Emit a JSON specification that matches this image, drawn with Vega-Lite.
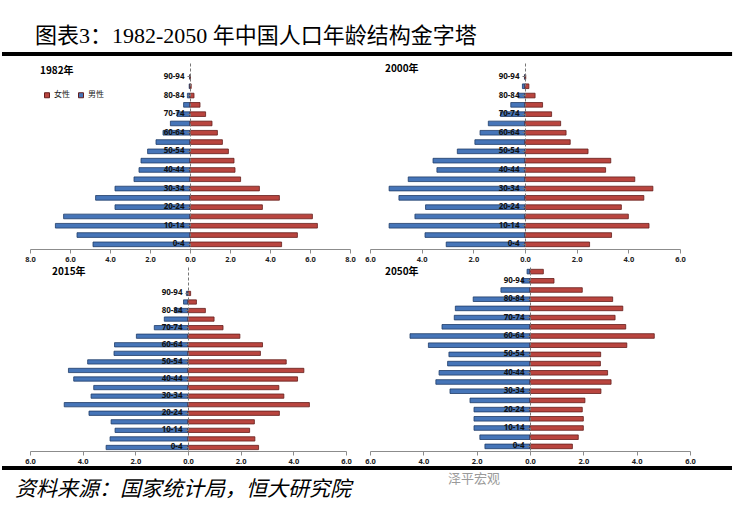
{
  "$schema": "https://vega.github.io/schema/vega-lite/v6.json",
  "autosize": {"type": "pad"},
  "padding": {"left": 0, "top": 24, "right": 2, "bottom": 2},
  "background": "white",
  "bounds": "flush",
  "columns": 2,
  "spacing": {"row": 18, "column": 20},
  "config": {
    "view": {"stroke": null},
    "font": "Noto Sans CJK SC",
    "axis": {"labelFont": "Noto Sans", "grid": false, "title": null}
  },
  "resolve": {"scale": {"color": "independent", "x": "independent", "y": "independent"}, "legend": {"color": "independent"}},
  "datasets": {
    "pop": [
      {"year":1982,"sex":"男性","age":"0-4","value":4.85},{"year":1982,"sex":"男性","age":"5-9","value":5.65},{"year":1982,"sex":"男性","age":"10-14","value":6.73},{"year":1982,"sex":"男性","age":"15-19","value":6.32},{"year":1982,"sex":"男性","age":"20-24","value":3.75},{"year":1982,"sex":"男性","age":"25-29","value":4.72},{"year":1982,"sex":"男性","age":"30-34","value":3.75},{"year":1982,"sex":"男性","age":"35-39","value":2.8},{"year":1982,"sex":"男性","age":"40-44","value":2.55},{"year":1982,"sex":"男性","age":"45-49","value":2.45},{"year":1982,"sex":"男性","age":"50-54","value":2.12},{"year":1982,"sex":"男性","age":"55-59","value":1.7},{"year":1982,"sex":"男性","age":"60-64","value":1.35},{"year":1982,"sex":"男性","age":"65-69","value":0.98},{"year":1982,"sex":"男性","age":"70-74","value":0.65},{"year":1982,"sex":"男性","age":"75-79","value":0.32},{"year":1982,"sex":"男性","age":"80-84","value":0.13},{"year":1982,"sex":"男性","age":"85-89","value":0.04},{"year":1982,"sex":"男性","age":"90-94","value":0.01},
      {"year":1982,"sex":"女性","age":"0-4","value":4.58},{"year":1982,"sex":"女性","age":"5-9","value":5.37},{"year":1982,"sex":"女性","age":"10-14","value":6.37},{"year":1982,"sex":"女性","age":"15-19","value":6.12},{"year":1982,"sex":"女性","age":"20-24","value":3.62},{"year":1982,"sex":"女性","age":"25-29","value":4.47},{"year":1982,"sex":"女性","age":"30-34","value":3.47},{"year":1982,"sex":"女性","age":"35-39","value":2.53},{"year":1982,"sex":"女性","age":"40-44","value":2.25},{"year":1982,"sex":"女性","age":"45-49","value":2.2},{"year":1982,"sex":"女性","age":"50-54","value":1.92},{"year":1982,"sex":"女性","age":"55-59","value":1.62},{"year":1982,"sex":"女性","age":"60-64","value":1.37},{"year":1982,"sex":"女性","age":"65-69","value":1.1},{"year":1982,"sex":"女性","age":"70-74","value":0.78},{"year":1982,"sex":"女性","age":"75-79","value":0.5},{"year":1982,"sex":"女性","age":"80-84","value":0.2},{"year":1982,"sex":"女性","age":"85-89","value":0.06},{"year":1982,"sex":"女性","age":"90-94","value":0.01},
      {"year":2000,"sex":"男性","age":"0-4","value":3.05},{"year":2000,"sex":"男性","age":"5-9","value":3.87},{"year":2000,"sex":"男性","age":"10-14","value":5.26},{"year":2000,"sex":"男性","age":"15-19","value":4.26},{"year":2000,"sex":"男性","age":"20-24","value":3.85},{"year":2000,"sex":"男性","age":"25-29","value":4.88},{"year":2000,"sex":"男性","age":"30-34","value":5.26},{"year":2000,"sex":"男性","age":"35-39","value":4.52},{"year":2000,"sex":"男性","age":"40-44","value":3.41},{"year":2000,"sex":"男性","age":"45-49","value":3.56},{"year":2000,"sex":"男性","age":"50-54","value":2.62},{"year":2000,"sex":"男性","age":"55-59","value":1.94},{"year":2000,"sex":"男性","age":"60-64","value":1.74},{"year":2000,"sex":"男性","age":"65-69","value":1.42},{"year":2000,"sex":"男性","age":"70-74","value":0.95},{"year":2000,"sex":"男性","age":"75-79","value":0.55},{"year":2000,"sex":"男性","age":"80-84","value":0.26},{"year":2000,"sex":"男性","age":"85-89","value":0.1},{"year":2000,"sex":"男性","age":"90-94","value":0.02},
      {"year":2000,"sex":"女性","age":"0-4","value":2.5},{"year":2000,"sex":"女性","age":"5-9","value":3.35},{"year":2000,"sex":"女性","age":"10-14","value":4.8},{"year":2000,"sex":"女性","age":"15-19","value":4.0},{"year":2000,"sex":"女性","age":"20-24","value":3.73},{"year":2000,"sex":"女性","age":"25-29","value":4.6},{"year":2000,"sex":"女性","age":"30-34","value":4.95},{"year":2000,"sex":"女性","age":"35-39","value":4.25},{"year":2000,"sex":"女性","age":"40-44","value":3.12},{"year":2000,"sex":"女性","age":"45-49","value":3.32},{"year":2000,"sex":"女性","age":"50-54","value":2.44},{"year":2000,"sex":"女性","age":"55-59","value":1.75},{"year":2000,"sex":"女性","age":"60-64","value":1.59},{"year":2000,"sex":"女性","age":"65-69","value":1.38},{"year":2000,"sex":"女性","age":"70-74","value":1.03},{"year":2000,"sex":"女性","age":"75-79","value":0.68},{"year":2000,"sex":"女性","age":"80-84","value":0.39},{"year":2000,"sex":"女性","age":"85-89","value":0.15},{"year":2000,"sex":"女性","age":"90-94","value":0.03},
      {"year":2015,"sex":"男性","age":"0-4","value":3.11},{"year":2015,"sex":"男性","age":"5-9","value":2.96},{"year":2015,"sex":"男性","age":"10-14","value":2.77},{"year":2015,"sex":"男性","age":"15-19","value":2.92},{"year":2015,"sex":"男性","age":"20-24","value":3.76},{"year":2015,"sex":"男性","age":"25-29","value":4.7},{"year":2015,"sex":"男性","age":"30-34","value":3.68},{"year":2015,"sex":"男性","age":"35-39","value":3.58},{"year":2015,"sex":"男性","age":"40-44","value":4.34},{"year":2015,"sex":"男性","age":"45-49","value":4.54},{"year":2015,"sex":"男性","age":"50-54","value":3.81},{"year":2015,"sex":"男性","age":"55-59","value":2.81},{"year":2015,"sex":"男性","age":"60-64","value":2.79},{"year":2015,"sex":"男性","age":"65-69","value":1.96},{"year":2015,"sex":"男性","age":"70-74","value":1.28},{"year":2015,"sex":"男性","age":"75-79","value":0.9},{"year":2015,"sex":"男性","age":"80-84","value":0.5},{"year":2015,"sex":"男性","age":"85-89","value":0.17},{"year":2015,"sex":"男性","age":"90-94","value":0.06},
      {"year":2015,"sex":"女性","age":"0-4","value":2.68},{"year":2015,"sex":"女性","age":"5-9","value":2.54},{"year":2015,"sex":"女性","age":"10-14","value":2.34},{"year":2015,"sex":"女性","age":"15-19","value":2.52},{"year":2015,"sex":"女性","age":"20-24","value":3.47},{"year":2015,"sex":"女性","age":"25-29","value":4.61},{"year":2015,"sex":"女性","age":"30-34","value":3.64},{"year":2015,"sex":"女性","age":"35-39","value":3.45},{"year":2015,"sex":"女性","age":"40-44","value":4.16},{"year":2015,"sex":"女性","age":"45-49","value":4.4},{"year":2015,"sex":"女性","age":"50-54","value":3.73},{"year":2015,"sex":"女性","age":"55-59","value":2.75},{"year":2015,"sex":"女性","age":"60-64","value":2.83},{"year":2015,"sex":"女性","age":"65-69","value":1.97},{"year":2015,"sex":"女性","age":"70-74","value":1.33},{"year":2015,"sex":"女性","age":"75-79","value":0.99},{"year":2015,"sex":"女性","age":"80-84","value":0.66},{"year":2015,"sex":"女性","age":"85-89","value":0.32},{"year":2015,"sex":"女性","age":"90-94","value":0.1},
      {"year":2050,"sex":"男性","age":"0-4","value":1.69},{"year":2050,"sex":"男性","age":"5-9","value":1.88},{"year":2050,"sex":"男性","age":"10-14","value":2.1},{"year":2050,"sex":"男性","age":"15-19","value":2.1},{"year":2050,"sex":"男性","age":"20-24","value":2.1},{"year":2050,"sex":"男性","age":"25-29","value":2.25},{"year":2050,"sex":"男性","age":"30-34","value":3.0},{"year":2050,"sex":"男性","age":"35-39","value":3.53},{"year":2050,"sex":"男性","age":"40-44","value":3.41},{"year":2050,"sex":"男性","age":"45-49","value":3.09},{"year":2050,"sex":"男性","age":"50-54","value":3.04},{"year":2050,"sex":"男性","age":"55-59","value":3.81},{"year":2050,"sex":"男性","age":"60-64","value":4.5},{"year":2050,"sex":"男性","age":"65-69","value":3.3},{"year":2050,"sex":"男性","age":"70-74","value":2.84},{"year":2050,"sex":"男性","age":"75-79","value":2.8},{"year":2050,"sex":"男性","age":"80-84","value":2.13},{"year":2050,"sex":"男性","age":"85-89","value":1.09},{"year":2050,"sex":"男性","age":"90-94","value":0.31},{"year":2050,"sex":"男性","age":"95+","value":0.11},
      {"year":2050,"sex":"女性","age":"0-4","value":1.59},{"year":2050,"sex":"女性","age":"5-9","value":1.81},{"year":2050,"sex":"女性","age":"10-14","value":2.0},{"year":2050,"sex":"女性","age":"15-19","value":2.0},{"year":2050,"sex":"女性","age":"20-24","value":1.96},{"year":2050,"sex":"女性","age":"25-29","value":2.06},{"year":2050,"sex":"女性","age":"30-34","value":2.66},{"year":2050,"sex":"女性","age":"35-39","value":3.04},{"year":2050,"sex":"女性","age":"40-44","value":2.91},{"year":2050,"sex":"女性","age":"45-49","value":2.64},{"year":2050,"sex":"女性","age":"50-54","value":2.65},{"year":2050,"sex":"女性","age":"55-59","value":3.63},{"year":2050,"sex":"女性","age":"60-64","value":4.66},{"year":2050,"sex":"女性","age":"65-69","value":3.59},{"year":2050,"sex":"女性","age":"70-74","value":3.19},{"year":2050,"sex":"女性","age":"75-79","value":3.48},{"year":2050,"sex":"女性","age":"80-84","value":3.1},{"year":2050,"sex":"女性","age":"85-89","value":1.96},{"year":2050,"sex":"女性","age":"90-94","value":0.9},{"year":2050,"sex":"女性","age":"95+","value":0.5}
    ]
  },
  "concat": [
    {
      "width": 320, "height": 186,
      "resolve": {"scale": {"x": "independent", "y": "independent"}},
      "layer": [
        {
          "data": {"name": "pop"},
          "transform": [{"filter": "datum.year == 1982 && datum.sex == '男性'"}],
          "mark": {"type": "bar", "stroke": "#1f3c68", "strokeWidth": 0.8},
          "encoding": {
            "y": {"field": "age", "type": "ordinal", "scale": {"domain": ["95+","90-94","85-89","80-84","75-79","70-74","65-69","60-64","55-59","50-54","45-49","40-44","35-39","30-34","25-29","20-24","15-19","10-14","5-9","0-4"], "paddingInner": 0.5, "paddingOuter": 0.25},
              "axis": {"orient": "left", "offset": -160, "values": ["90-94","80-84","70-74","60-64","50-54","40-44","30-34","20-24","10-14","0-4"], "domainDash": [3, 2], "domainColor": "#777", "tickColor": "#777", "tickSize": 3, "labelFontSize": 8, "labelFontWeight": "bold", "labelColor": "#111", "labelPadding": 3, "zindex": 1}},
            "x": {"field": "value", "type": "quantitative", "scale": {"domain": [-8, 8], "reverse": true, "nice": false}, "axis": null},
            "color": {"field": "sex", "type": "nominal", "scale": {"domain": ["女性","男性"], "range": ["#b9453f","#4675b8"]},
              "legend": {"orient": "none", "legendX": 13, "legendY": 28, "direction": "horizontal", "title": null, "symbolType": "square", "symbolSize": 25, "symbolStrokeColor": "#333", "symbolStrokeWidth": 1, "labelFontSize": 8, "labelFont": "Noto Sans CJK SC", "labelColor": "#222", "columnPadding": 6, "labelOffset": 3}}
          }
        },
        {
          "data": {"name": "pop"},
          "transform": [{"filter": "datum.year == 1982 && datum.sex == '女性'"}],
          "mark": {"type": "bar", "stroke": "#641e1c", "strokeWidth": 0.8},
          "encoding": {
            "y": {"field": "age", "type": "ordinal", "scale": {"domain": ["95+","90-94","85-89","80-84","75-79","70-74","65-69","60-64","55-59","50-54","45-49","40-44","35-39","30-34","25-29","20-24","15-19","10-14","5-9","0-4"], "paddingInner": 0.5, "paddingOuter": 0.25}, "axis": null},
            "x": {"field": "value", "type": "quantitative", "scale": {"domain": [-8, 8], "nice": false},
              "axis": {"values": [-8,-6,-4,-2,0,2,4,6,8], "labelExpr": "format(abs(datum.value), '.1f')", "domainColor": "#8c8c8c", "tickColor": "#8c8c8c", "tickSize": 4, "labelFontSize": 7.5, "labelFontWeight": "bold", "labelColor": "#222", "labelPadding": 2, "labelFlush": false, "labelOverlap": false}},
            "color": {"field": "sex", "type": "nominal"}
          }
        },
        {
          "data": {"values": [{}]},
          "layer": [
            {
              "mark": {"type": "rule", "stroke": "#000", "strokeWidth": 4},
              "encoding": {
                "x": {"datum": -0.0875, "type": "quantitative", "scale": {"domain": [0, 1], "nice": false, "zero": false}, "axis": null},
                "x2": {"datum": 2.194},
                "y": {"datum": 1.0484, "type": "quantitative", "scale": {"domain": [0, 1], "nice": false, "zero": false}, "axis": null}
              }
            },
            {
              "mark": {"type": "text", "align": "left", "baseline": "middle", "fontSize": 22, "font": "Liberation Serif, Noto Sans CJK SC", "color": "#000"},
              "encoding": {
                "text": {"datum": "图表3：1982-2050 年中国人口年龄结构金字塔"},
                "x": {"datum": 0.0156, "type": "quantitative", "scale": {"domain": [0, 1], "nice": false, "zero": false}, "axis": null},
                "y": {"datum": 1.1452, "type": "quantitative", "scale": {"domain": [0, 1], "nice": false, "zero": false}, "axis": null}
              }
            },
            {
              "mark": {"type": "text", "align": "left", "baseline": "middle", "fontSize": 10, "fontWeight": "bold", "color": "#000"},
              "encoding": {
                "text": {"datum": "1982年"},
                "x": {"datum": 0.03125, "type": "quantitative", "scale": {"domain": [0, 1], "nice": false, "zero": false}, "axis": null},
                "y": {"datum": 0.957, "type": "quantitative", "scale": {"domain": [0, 1], "nice": false, "zero": false}, "axis": null}
              }
            }
          ]
        }
      ]
    },
    {
      "width": 310, "height": 186,
      "resolve": {"scale": {"x": "independent", "y": "independent"}},
      "layer": [
        {
          "data": {"name": "pop"},
          "transform": [{"filter": "datum.year == 2000 && datum.sex == '男性'"}],
          "mark": {"type": "bar", "stroke": "#1f3c68", "strokeWidth": 0.8},
          "encoding": {
            "y": {"field": "age", "type": "ordinal", "scale": {"domain": ["95+","90-94","85-89","80-84","75-79","70-74","65-69","60-64","55-59","50-54","45-49","40-44","35-39","30-34","25-29","20-24","15-19","10-14","5-9","0-4"], "paddingInner": 0.5, "paddingOuter": 0.25},
              "axis": {"orient": "left", "offset": -155, "values": ["90-94","80-84","70-74","60-64","50-54","40-44","30-34","20-24","10-14","0-4"], "domainDash": [3, 2], "domainColor": "#777", "tickColor": "#777", "tickSize": 3, "labelFontSize": 8, "labelFontWeight": "bold", "labelColor": "#111", "labelPadding": 3, "zindex": 1}},
            "x": {"field": "value", "type": "quantitative", "scale": {"domain": [-6, 6], "reverse": true, "nice": false}, "axis": null},
            "color": {"field": "sex", "type": "nominal", "scale": {"domain": ["女性","男性"], "range": ["#b9453f","#4675b8"]}, "legend": null}
          }
        },
        {
          "data": {"name": "pop"},
          "transform": [{"filter": "datum.year == 2000 && datum.sex == '女性'"}],
          "mark": {"type": "bar", "stroke": "#641e1c", "strokeWidth": 0.8},
          "encoding": {
            "y": {"field": "age", "type": "ordinal", "scale": {"domain": ["95+","90-94","85-89","80-84","75-79","70-74","65-69","60-64","55-59","50-54","45-49","40-44","35-39","30-34","25-29","20-24","15-19","10-14","5-9","0-4"], "paddingInner": 0.5, "paddingOuter": 0.25}, "axis": null},
            "x": {"field": "value", "type": "quantitative", "scale": {"domain": [-6, 6], "nice": false},
              "axis": {"values": [-6,-4,-2,0,2,4,6], "labelExpr": "format(abs(datum.value), '.1f')", "domainColor": "#8c8c8c", "tickColor": "#8c8c8c", "tickSize": 4, "labelFontSize": 7.5, "labelFontWeight": "bold", "labelColor": "#222", "labelPadding": 2, "labelFlush": false, "labelOverlap": false}},
            "color": {"field": "sex", "type": "nominal"}
          }
        },
        {
          "data": {"values": [{}]},
          "mark": {"type": "text", "align": "left", "baseline": "middle", "fontSize": 10, "fontWeight": "bold", "color": "#000"},
          "encoding": {
            "text": {"datum": "2000年"},
            "x": {"datum": 0.0484, "type": "quantitative", "scale": {"domain": [0, 1], "nice": false, "zero": false}, "axis": null},
            "y": {"datum": 0.9677, "type": "quantitative", "scale": {"domain": [0, 1], "nice": false, "zero": false}, "axis": null}
          }
        }
      ]
    },
    {
      "width": 316, "height": 184,
      "resolve": {"scale": {"x": "independent", "y": "independent"}},
      "layer": [
        {
          "data": {"name": "pop"},
          "transform": [{"filter": "datum.year == 2015 && datum.sex == '男性'"}],
          "mark": {"type": "bar", "stroke": "#1f3c68", "strokeWidth": 0.8},
          "encoding": {
            "y": {"field": "age", "type": "ordinal", "scale": {"domain": ["95+","90-94","85-89","80-84","75-79","70-74","65-69","60-64","55-59","50-54","45-49","40-44","35-39","30-34","25-29","20-24","15-19","10-14","5-9","0-4"], "paddingInner": 0.5, "paddingOuter": 1.538, "align": 0.919},
              "axis": {"orient": "left", "offset": -158, "values": ["90-94","80-84","70-74","60-64","50-54","40-44","30-34","20-24","10-14","0-4"], "domainDash": [3, 2], "domainColor": "#777", "tickColor": "#777", "tickSize": 3, "labelFontSize": 8, "labelFontWeight": "bold", "labelColor": "#111", "labelPadding": 3, "zindex": 1}},
            "x": {"field": "value", "type": "quantitative", "scale": {"domain": [-6, 6], "reverse": true, "nice": false}, "axis": null},
            "color": {"field": "sex", "type": "nominal", "scale": {"domain": ["女性","男性"], "range": ["#b9453f","#4675b8"]}, "legend": null}
          }
        },
        {
          "data": {"name": "pop"},
          "transform": [{"filter": "datum.year == 2015 && datum.sex == '女性'"}],
          "mark": {"type": "bar", "stroke": "#641e1c", "strokeWidth": 0.8},
          "encoding": {
            "y": {"field": "age", "type": "ordinal", "scale": {"domain": ["95+","90-94","85-89","80-84","75-79","70-74","65-69","60-64","55-59","50-54","45-49","40-44","35-39","30-34","25-29","20-24","15-19","10-14","5-9","0-4"], "paddingInner": 0.5, "paddingOuter": 1.538, "align": 0.919}, "axis": null},
            "x": {"field": "value", "type": "quantitative", "scale": {"domain": [-6, 6], "nice": false},
              "axis": {"values": [-6,-4,-2,0,2,4,6], "labelExpr": "format(abs(datum.value), '.1f')", "domainColor": "#8c8c8c", "tickColor": "#8c8c8c", "tickSize": 4, "labelFontSize": 7.5, "labelFontWeight": "bold", "labelColor": "#222", "labelPadding": 2, "labelFlush": false, "labelOverlap": false}},
            "color": {"field": "sex", "type": "nominal"}
          }
        },
        {
          "data": {"values": [{}]},
          "layer": [
            {
              "mark": {"type": "rule", "stroke": "#000", "strokeWidth": 4},
              "encoding": {
                "x": {"datum": -0.0886, "type": "quantitative", "scale": {"domain": [0, 1], "nice": false, "zero": false}, "axis": null},
                "x2": {"datum": 2.2215},
                "y": {"datum": -0.0924, "type": "quantitative", "scale": {"domain": [0, 1], "nice": false, "zero": false}, "axis": null}
              }
            },
            {
              "mark": {"type": "text", "align": "left", "baseline": "middle", "fontSize": 10, "fontWeight": "bold", "color": "#000"},
              "encoding": {
                "text": {"datum": "2015年"},
                "x": {"datum": 0.0696, "type": "quantitative", "scale": {"domain": [0, 1], "nice": false, "zero": false}, "axis": null},
                "y": {"datum": 0.9728, "type": "quantitative", "scale": {"domain": [0, 1], "nice": false, "zero": false}, "axis": null}
              }
            },
            {
              "mark": {"type": "text", "align": "left", "baseline": "middle", "fontSize": 21, "fontStyle": "italic", "font": "Noto Sans CJK SC", "color": "#000"},
              "encoding": {
                "text": {"datum": "资料来源：国家统计局，恒大研究院"},
                "x": {"datum": -0.0475, "type": "quantitative", "scale": {"domain": [0, 1], "nice": false, "zero": false}, "axis": null},
                "y": {"datum": -0.212, "type": "quantitative", "scale": {"domain": [0, 1], "nice": false, "zero": false}, "axis": null}
              }
            },
            {
              "mark": {"type": "text", "align": "left", "baseline": "middle", "fontSize": 13, "color": "#9a9a9a"},
              "encoding": {
                "text": {"datum": "泽平宏观"},
                "x": {"datum": 1.3228, "type": "quantitative", "scale": {"domain": [0, 1], "nice": false, "zero": false}, "axis": null},
                "y": {"datum": -0.152, "type": "quantitative", "scale": {"domain": [0, 1], "nice": false, "zero": false}, "axis": null}
              }
            }
          ]
        }
      ]
    },
    {
      "width": 320, "height": 184,
      "resolve": {"scale": {"x": "independent", "y": "independent"}},
      "layer": [
        {
          "data": {"name": "pop"},
          "transform": [{"filter": "datum.year == 2050 && datum.sex == '男性'"}],
          "mark": {"type": "bar", "stroke": "#1f3c68", "strokeWidth": 0.8},
          "encoding": {
            "y": {"field": "age", "type": "ordinal", "scale": {"domain": ["95+","90-94","85-89","80-84","75-79","70-74","65-69","60-64","55-59","50-54","45-49","40-44","35-39","30-34","25-29","20-24","15-19","10-14","5-9","0-4"], "paddingInner": 0.5, "paddingOuter": 0.25},
              "axis": {"orient": "left", "offset": -160, "values": ["90-94","80-84","70-74","60-64","50-54","40-44","30-34","20-24","10-14","0-4"], "domainDash": [3, 2], "domainColor": "#777", "tickColor": "#777", "tickSize": 3, "labelFontSize": 8, "labelFontWeight": "bold", "labelColor": "#111", "labelPadding": 3, "zindex": 1}},
            "x": {"field": "value", "type": "quantitative", "scale": {"domain": [-6, 6], "reverse": true, "nice": false}, "axis": null},
            "color": {"field": "sex", "type": "nominal", "scale": {"domain": ["女性","男性"], "range": ["#b9453f","#4675b8"]}, "legend": null}
          }
        },
        {
          "data": {"name": "pop"},
          "transform": [{"filter": "datum.year == 2050 && datum.sex == '女性'"}],
          "mark": {"type": "bar", "stroke": "#641e1c", "strokeWidth": 0.8},
          "encoding": {
            "y": {"field": "age", "type": "ordinal", "scale": {"domain": ["95+","90-94","85-89","80-84","75-79","70-74","65-69","60-64","55-59","50-54","45-49","40-44","35-39","30-34","25-29","20-24","15-19","10-14","5-9","0-4"], "paddingInner": 0.5, "paddingOuter": 0.25}, "axis": null},
            "x": {"field": "value", "type": "quantitative", "scale": {"domain": [-6, 6], "nice": false},
              "axis": {"values": [-6,-4,-2,0,2,4,6], "labelExpr": "format(abs(datum.value), '.1f')", "domainColor": "#8c8c8c", "tickColor": "#8c8c8c", "tickSize": 4, "labelFontSize": 7.5, "labelFontWeight": "bold", "labelColor": "#222", "labelPadding": 2, "labelFlush": false, "labelOverlap": false}},
            "color": {"field": "sex", "type": "nominal"}
          }
        },
        {
          "data": {"values": [{}]},
          "mark": {"type": "text", "align": "left", "baseline": "middle", "fontSize": 10, "fontWeight": "bold", "color": "#000"},
          "encoding": {
            "text": {"datum": "2050年"},
            "x": {"datum": 0.0469, "type": "quantitative", "scale": {"domain": [0, 1], "nice": false, "zero": false}, "axis": null},
            "y": {"datum": 0.9728, "type": "quantitative", "scale": {"domain": [0, 1], "nice": false, "zero": false}, "axis": null}
          }
        }
      ]
    }
  ]
}
